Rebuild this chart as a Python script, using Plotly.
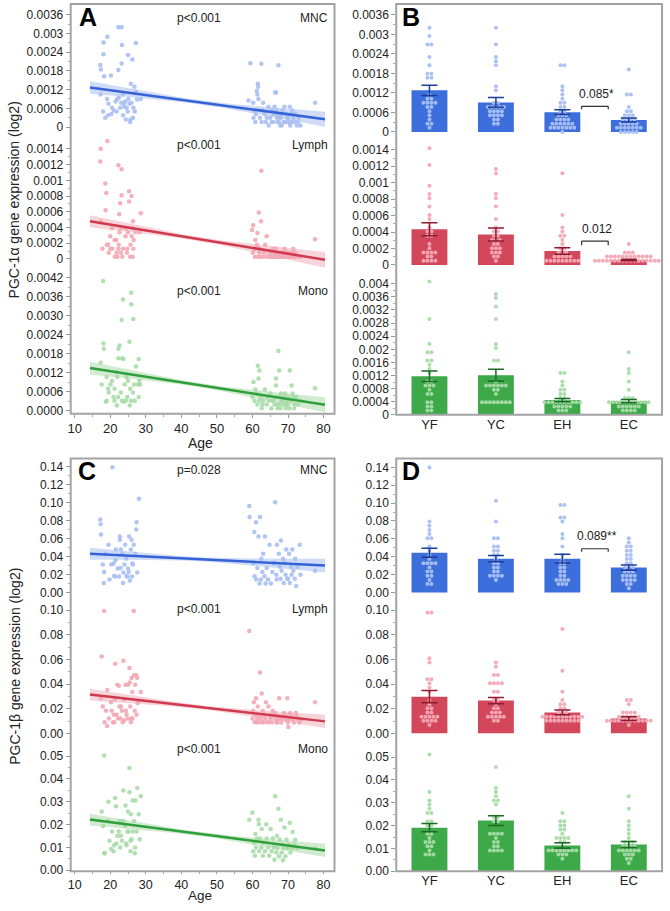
import numpy as np
import plotly.graph_objects as go

GROUPS = ["YF", "YC", "EH", "EC"]
CELLS = ["MNC", "Lymph", "Mono"]

# ================= PGC-1alpha =================
A_MNC_YF = [0.00320, 0.00290, 0.00271, 0.00270, 0.00234, 0.00199, 0.00185, 0.00183, 0.00165, 0.00163,
            0.00113, 0.00104, 0.00104, 0.00090, 0.00090, 0.00090, 0.00090, 0.00078, 0.00078, 0.00065,
            0.00053, 0.00042, 0.00030, 0.00030, 0.00016]
A_MNC_YF_AGE = [22.3, 19.2, 18.1, 27.2, 18.1, 17.2, 17.4, 22.3, 20.2, 18.3,
                27.2, 23.5, 17.3, 25.1, 28.6, 22.0, 19.1, 23.1, 26.0, 24.0,
                21.0, 20.3, 18.6, 26.4, 25.6]
A_MNC_YC = [0.00320, 0.00263, 0.00231, 0.00217, 0.00204, 0.00139, 0.00129, 0.00095, 0.00088, 0.00082,
            0.00082, 0.00075, 0.00075, 0.00075, 0.00062, 0.00062, 0.00062, 0.00062, 0.00050, 0.00050,
            0.00050, 0.00050, 0.00038, 0.00038, 0.00024, 0.00024]
A_MNC_YC_AGE = [23.2, 23.3, 25.0, 26.2, 23.2, 25.8, 26.8, 22.4, 27.5, 21.5,
                24.2, 19.5, 23.8, 25.4, 20.5, 22.8, 24.6, 26.5, 18.0, 21.8,
                24.9, 26.9, 19.4, 23.6, 25.7, 24.4]
A_MNC_EH = [0.00205, 0.00203, 0.00139, 0.00129, 0.00116, 0.00104, 0.00090, 0.00085, 0.00078, 0.00078,
            0.00065, 0.00065, 0.00053, 0.00053, 0.00053, 0.00042, 0.00042, 0.00042, 0.00042, 0.00030,
            0.00030, 0.00030, 0.00030, 0.00030, 0.00030, 0.00016, 0.00016, 0.00016, 0.00016, 0.00016,
            0.00016, 0.00016, 0.00005]
A_MNC_EH_AGE = [59.4, 62.5, 61.5, 61.6, 61.2, 61.4, 61.7, 58.9, 60.2, 63.0,
                64.5, 66.2, 60.5, 62.8, 65.5, 61.0, 63.4, 66.0, 68.2, 60.3,
                62.1, 64.0, 65.0, 67.5, 70.0, 60.8, 62.6, 63.8, 65.8, 67.0,
                69.2, 71.0, 64.6]
A_MNC_EC = [0.00198, 0.00111, 0.00111, 0.00078, 0.00065, 0.00065, 0.00053, 0.00053, 0.00053, 0.00042,
            0.00042, 0.00042, 0.00042, 0.00030, 0.00030, 0.00030, 0.00030, 0.00030, 0.00016, 0.00016,
            0.00016, 0.00016, 0.00016, 0.00016, 0.00016, 0.00005, 0.00005, 0.00005, 0.00005, 0.00005]
A_MNC_EC_AGE = [67.3, 66.6, 66.4, 77.6, 69.0, 70.5, 66.8, 68.5, 71.2, 67.2,
                69.5, 70.8, 72.0, 66.9, 68.0, 69.8, 71.5, 73.0, 67.5, 68.8,
                70.2, 71.8, 72.8, 65.4, 69.3, 68.2, 70.6, 72.5, 73.5, 67.8]

A_LYM_YF = [0.00150, 0.00140, 0.00124, 0.00096, 0.00084, 0.00080, 0.00071, 0.00062, 0.00057, 0.00048,
            0.00039, 0.00039, 0.00034, 0.00034, 0.00024, 0.00018, 0.00013, 0.00013, 0.00013, 0.00013,
            0.00008, 0.00008, 0.00003, 0.00003, 0.00003, 0.00003]
A_LYM_YF_AGE = [19.2, 17.3, 17.2, 18.6, 18.9, 26.0, 22.8, 18.7, 22.5, 17.4,
                20.5, 24.3, 25.0, 28.3, 21.7, 19.0, 17.8, 20.0, 22.3, 24.8,
                19.6, 23.0, 21.3, 22.0, 25.6, 26.3]
A_LYM_YC = [0.00157, 0.00119, 0.00114, 0.00086, 0.00081, 0.00073, 0.00058, 0.00048, 0.00039, 0.00039,
            0.00034, 0.00034, 0.00029, 0.00029, 0.00029, 0.00024, 0.00024, 0.00018, 0.00018, 0.00018,
            0.00013, 0.00013, 0.00013, 0.00008, 0.00008, 0.00003]
A_LYM_YC_AGE = [25.4, 22.3, 23.2, 25.3, 23.2, 25.3, 28.6, 26.4, 23.0, 26.3,
                22.6, 27.1, 20.0, 24.3, 26.0, 21.2, 26.6, 19.4, 22.4, 25.7,
                20.6, 23.6, 26.5, 21.8, 24.7, 23.4]
A_LYM_EH = [0.00112, 0.00059, 0.00048, 0.00043, 0.00037, 0.00033, 0.00029, 0.00024, 0.00018, 0.00018,
            0.00013, 0.00013, 0.00013, 0.00008, 0.00008, 0.00008, 0.00008, 0.00008, 0.00003, 0.00003,
            0.00003, 0.00003, 0.00003, 0.00003, 0.00003, 0.00003, 0.00003]
A_LYM_EH_AGE = [62.5, 61.8, 62.4, 60.2, 59.9, 61.4, 64.0, 60.8, 61.3, 63.6,
                60.5, 62.0, 65.8, 60.1, 61.9, 63.2, 64.8, 66.5, 60.7, 61.6,
                62.9, 63.9, 65.2, 66.0, 67.4, 68.6, 62.2]
A_LYM_EC = [0.00025, 0.00013, 0.00013, 0.00013, 0.00008, 0.00008, 0.00008, 0.00008, 0.00008, 0.00008,
            0.00008, 0.00008, 0.00008, 0.00008, 0.00008, 0.00008, 0.00003, 0.00003, 0.00003, 0.00003,
            0.00003, 0.00003, 0.00003, 0.00003, 0.00003, 0.00003, 0.00003, 0.00003, 0.00003, 0.00003,
            0.00003, 0.00003, 0.00003, 0.00003]
A_LYM_EC_AGE = [77.6, 66.6, 69.0, 71.5, 66.2, 67.0, 67.8, 68.5, 69.3, 70.0,
                70.7, 71.4, 72.1, 65.6, 68.1, 69.7, 66.5, 67.3, 68.0, 68.8,
                69.5, 70.3, 71.0, 71.8, 72.5, 73.5, 65.2, 66.9, 67.6, 69.1,
                70.6, 72.0, 64.5, 70.9]

A_MONO_YF = [0.00410, 0.00287, 0.00213, 0.00196, 0.00196, 0.00166, 0.00166, 0.00152, 0.00140, 0.00123,
             0.00107, 0.00107, 0.00095, 0.00083, 0.00083, 0.00070, 0.00058, 0.00058, 0.00044, 0.00044,
             0.00029, 0.00029, 0.00017, 0.00017]
A_MONO_YF_AGE = [18.0, 23.2, 18.1, 18.2, 22.3, 22.3, 23.4, 17.3, 27.2, 21.8,
                 19.0, 24.6, 20.5, 17.6, 27.8, 21.2, 19.6, 26.4, 22.2, 28.0,
                 18.8, 23.8, 21.9, 25.5]
A_MONO_YC = [0.00373, 0.00352, 0.00337, 0.00290, 0.00218, 0.00206, 0.00164, 0.00164, 0.00107, 0.00095,
             0.00095, 0.00083, 0.00083, 0.00083, 0.00083, 0.00070, 0.00070, 0.00058, 0.00044, 0.00044,
             0.00032, 0.00032, 0.00032, 0.00032, 0.00032, 0.00032]
A_MONO_YC_AGE = [25.9, 23.6, 25.9, 26.5, 25.4, 22.6, 23.7, 28.0, 22.0, 25.0,
                 28.2, 20.1, 24.1, 26.7, 28.4, 19.4, 25.6, 23.0, 20.9, 24.8,
                 19.0, 21.2, 23.3, 24.4, 25.8, 26.9]
A_MONO_EH = [0.00127, 0.00127, 0.00102, 0.00091, 0.00080, 0.00080, 0.00067, 0.00067, 0.00055, 0.00055,
             0.00044, 0.00044, 0.00044, 0.00044, 0.00032, 0.00032, 0.00032, 0.00032, 0.00032, 0.00032,
             0.00020, 0.00020, 0.00020, 0.00020, 0.00020, 0.00008, 0.00008, 0.00008]
A_MONO_EH_AGE = [62.0, 67.5, 61.7, 60.3, 66.6, 71.0, 60.8, 63.5, 61.2, 65.0,
                 60.0, 62.3, 64.2, 66.8, 60.6, 61.9, 63.0, 64.6, 65.7, 68.2,
                 61.4, 62.8, 64.0, 66.2, 69.4, 62.6, 65.3, 67.9]
A_MONO_EC = [0.00189, 0.00142, 0.00127, 0.00102, 0.00071, 0.00055, 0.00055, 0.00055, 0.00044, 0.00044,
             0.00044, 0.00044, 0.00044, 0.00044, 0.00032, 0.00032, 0.00032, 0.00032, 0.00032, 0.00020,
             0.00020, 0.00020, 0.00020, 0.00020, 0.00020, 0.00008, 0.00008, 0.00008, 0.00008]
A_MONO_EC_AGE = [67.3, 61.5, 70.5, 66.6, 77.6, 68.0, 69.2, 71.3, 66.4, 67.8,
                 68.9, 70.1, 71.6, 72.4, 65.9, 68.4, 69.7, 70.8, 73.6, 66.9,
                 67.5, 68.6, 69.9, 71.9, 72.8, 67.1, 69.4, 70.4, 71.7]

# group means and SEM (bars, panel B)
A_MNC_MEAN = [0.00128, 0.00091, 0.00061, 0.00037]
A_MNC_SEM = [0.00016, 0.00015, 0.00007, 0.00006]
A_LYM_MEAN = [0.000434, 0.00037, 0.00017, 0.00006]
A_LYM_SEM = [0.00008, 0.00008, 0.00004, 0.00001]
A_MONO_MEAN = [0.00118, 0.00121, 0.00045, 0.00042]
A_MONO_SEM = [0.00016, 0.00018, 0.00005, 0.00005]

# regression fit (value at FIT_AGE ends) and CI half width [left, middle, right]
FIT_AGE = [14.3, 80.4]
A_MNC_FIT = [0.00127, 0.00025]
A_MNC_CI = [0.00020, 0.000064, 0.00024]
A_LYM_FIT = [0.00048, -0.00001]
A_LYM_CI = [0.000076, 0.000026, 0.00010]
A_MONO_FIT = [0.00135, 0.00019]
A_MONO_CI = [0.00020, 0.000065, 0.000235]
A_PTEXT = ["p<0.001", "p<0.001", "p<0.001"]

# ================= PGC-1beta =================
C_MNC_YF = [0.139, 0.0811, 0.0756, 0.0700, 0.0644, 0.0585, 0.0585, 0.0530, 0.0478, 0.0430,
            0.0356, 0.0311, 0.0311, 0.0311, 0.0311, 0.0270, 0.0226, 0.0226, 0.0181, 0.0181,
            0.0144, 0.0104, 0.0104]
C_MNC_YF_AGE = [20.6, 17.2, 17.3, 27.3, 17.4, 22.7, 26.0, 19.5, 23.0, 18.6,
                21.5, 24.0, 17.9, 26.4, 20.3, 22.9, 25.2, 18.3, 24.6, 21.1,
                19.8, 18.2, 23.6]
C_MNC_YC = [0.104, 0.078, 0.0622, 0.0622, 0.0530, 0.0530, 0.0478, 0.0478, 0.0430, 0.0430,
            0.0374, 0.0322, 0.0322, 0.0267, 0.0267, 0.0222, 0.0222, 0.0178, 0.0178, 0.0178,
            0.0178, 0.0133]
C_MNC_YC_AGE = [28.1, 27.4, 25.3, 22.7, 24.2, 26.6, 21.6, 25.8, 23.4, 27.0,
                24.5, 20.9, 26.2, 22.1, 25.0, 23.7, 27.6, 21.4, 24.8, 26.1,
                22.5, 25.5]
C_MNC_EH = [0.1003, 0.0960, 0.0837, 0.0837, 0.0780, 0.0670, 0.0622, 0.0530, 0.0430, 0.0374,
            0.0322, 0.0322, 0.0270, 0.0270, 0.0226, 0.0226, 0.0180, 0.0180, 0.0144, 0.0144,
            0.0144, 0.0144, 0.0100, 0.0100, 0.0100]
C_MNC_EH_AGE = [66.4, 59.1, 59.2, 62.1, 61.0, 60.5, 61.7, 64.8, 63.0, 62.5,
                60.2, 66.0, 61.4, 64.0, 62.8, 65.6, 60.6, 63.4, 61.1, 62.4,
                64.4, 66.8, 62.0, 63.7, 65.2]
C_MNC_EC = [0.0622, 0.0578, 0.0530, 0.0530, 0.0478, 0.0478, 0.0430, 0.0430, 0.0374, 0.0374,
            0.0330, 0.0330, 0.0285, 0.0285, 0.0285, 0.0240, 0.0240, 0.0240, 0.0196, 0.0196,
            0.0196, 0.0196, 0.0152, 0.0152, 0.0152, 0.0152, 0.0104, 0.0104, 0.0070]
C_MNC_EC_AGE = [63.5, 68.0, 73.3, 66.9, 69.5, 71.2, 67.4, 70.3, 68.6, 72.0,
                66.2, 69.0, 67.7, 70.8, 72.6, 68.2, 71.5, 77.6, 66.7, 69.3,
                71.0, 73.5, 67.9, 70.0, 71.9, 69.8, 68.8, 70.5, 72.3]

C_LYM_YF = [0.0995, 0.0995, 0.0624, 0.0565, 0.0449, 0.0449, 0.0414, 0.0387, 0.0352, 0.0285,
            0.0253, 0.0218, 0.0218, 0.0183, 0.0183, 0.0150, 0.0121, 0.0121, 0.0121, 0.0121,
            0.0090, 0.0090, 0.0090, 0.0090, 0.0059]
C_LYM_YF_AGE = [18.3, 26.6, 17.6, 21.4, 26.0, 27.6, 25.5, 22.4, 19.2, 17.4,
                20.2, 23.0, 17.9, 18.8, 24.4, 21.0, 19.6, 22.2, 24.9, 26.2,
                18.4, 20.8, 23.5, 25.8, 19.1]
C_LYM_YC = [0.0589, 0.0530, 0.0472, 0.0472, 0.0395, 0.0395, 0.0395, 0.0395, 0.0336, 0.0336,
            0.0274, 0.0274, 0.0247, 0.0218, 0.0218, 0.0183, 0.0183, 0.0183, 0.0150, 0.0150,
            0.0150, 0.0121, 0.0121, 0.0104, 0.0090]
C_LYM_YC_AGE = [23.7, 25.4, 26.7, 27.3, 22.0, 24.3, 25.0, 27.0, 26.2, 28.6,
                21.3, 24.0, 27.7, 22.6, 25.6, 20.4, 23.3, 26.9, 21.8, 24.6,
                27.4, 22.9, 25.9, 23.9, 21.1]
C_LYM_EH = [0.0831, 0.0494, 0.0323, 0.0285, 0.0253, 0.0253, 0.0218, 0.0218, 0.0183, 0.0183,
            0.0183, 0.0150, 0.0150, 0.0150, 0.0150, 0.0150, 0.0121, 0.0121, 0.0121, 0.0121,
            0.0121, 0.0121, 0.0090, 0.0090, 0.0090, 0.0090, 0.0090, 0.0090, 0.0090, 0.0090,
            0.0090]
C_LYM_EH_AGE = [59.1, 62.1, 62.6, 61.0, 60.4, 63.8, 61.5, 64.5, 60.2, 62.9,
                65.7, 60.8, 61.9, 63.3, 64.9, 66.4, 60.0, 61.3, 62.4, 63.6,
                65.1, 67.0, 60.6, 61.7, 62.7, 64.1, 65.5, 66.8, 63.0, 61.2,
                64.7]
C_LYM_EC = [0.0285, 0.0285, 0.0253, 0.0165, 0.0165, 0.0165, 0.0165, 0.0140, 0.0140, 0.0140,
            0.0140, 0.0140, 0.0140, 0.0113, 0.0113, 0.0113, 0.0113, 0.0113, 0.0113, 0.0113,
            0.0088, 0.0088, 0.0088, 0.0088, 0.0088, 0.0052]
C_LYM_EC_AGE = [67.5, 69.8, 77.6, 66.3, 68.9, 70.6, 72.2, 65.8, 67.2, 68.4,
                69.6, 71.0, 72.5, 66.6, 67.9, 69.2, 70.3, 71.4, 72.9, 73.8,
                66.9, 68.1, 69.9, 71.7, 73.2, 70.1]

C_MONO_YF = [0.0503, 0.0349, 0.0317, 0.0300, 0.0281, 0.0257, 0.0257, 0.0216, 0.0216, 0.0194,
             0.0194, 0.0170, 0.0170, 0.0150, 0.0129, 0.0129, 0.0129, 0.0110, 0.0110, 0.0093,
             0.0074, 0.0074, 0.0074]
C_MONO_YF_AGE = [18.3, 23.7, 21.4, 19.5, 21.6, 17.6, 25.0, 19.3, 22.7, 18.0,
                 24.1, 20.5, 26.3, 22.0, 19.8, 23.3, 25.7, 21.1, 24.6, 20.2,
                 18.3, 18.5, 26.9]
C_MONO_YC = [0.0581, 0.0448, 0.0360, 0.0342, 0.0324, 0.0306, 0.0306, 0.0284, 0.0245, 0.0245,
             0.0216, 0.0216, 0.0170, 0.0170, 0.0170, 0.0170, 0.0151, 0.0136, 0.0136, 0.0117,
             0.0117, 0.0100, 0.0100, 0.0083, 0.0083]
C_MONO_YC_AGE = [26.6, 25.4, 27.6, 25.4, 28.6, 26.3, 27.1, 24.3, 25.8, 28.0,
                 23.6, 26.7, 22.4, 24.9, 27.4, 25.1, 23.0, 26.0, 28.3, 21.7,
                 24.5, 22.8, 27.0, 20.9, 25.7]
C_MONO_EH = [0.0252, 0.0221, 0.0221, 0.0202, 0.0202, 0.0181, 0.0181, 0.0159, 0.0139, 0.0139,
             0.0139, 0.0139, 0.0122, 0.0122, 0.0100, 0.0100, 0.0100, 0.0100, 0.0083, 0.0083,
             0.0083, 0.0083, 0.0064, 0.0064, 0.0064, 0.0046]
C_MONO_EH_AGE = [60.0, 59.1, 61.7, 61.8, 63.9, 62.6, 65.1, 60.8, 61.3, 62.2,
                 64.0, 65.7, 60.4, 63.0, 61.0, 62.5, 64.4, 66.0, 60.2, 61.9,
                 63.5, 65.4, 60.7, 62.9, 64.7, 66.2]
C_MONO_EC = [0.0324, 0.0269, 0.0221, 0.0208, 0.0187, 0.0168, 0.0150, 0.0134, 0.0134, 0.0134,
             0.0112, 0.0112, 0.0112, 0.0112, 0.0096, 0.0096, 0.0096, 0.0096, 0.0096, 0.0096,
             0.0078, 0.0078, 0.0078, 0.0061, 0.0061, 0.0044]
C_MONO_EC_AGE = [66.4, 67.3, 68.0, 70.5, 69.0, 71.3, 66.9, 67.7, 69.6, 72.0,
                 66.2, 68.4, 70.2, 71.8, 67.0, 68.8, 69.9, 71.1, 72.5, 77.6,
                 66.7, 68.2, 70.7, 67.5, 69.3, 68.6]

C_MNC_MEAN = [0.0444, 0.0378, 0.0378, 0.0278]
C_MNC_SEM = [0.0050, 0.0035, 0.0050, 0.0030]
C_LYM_MEAN = [0.0298, 0.0266, 0.0170, 0.0120]
C_LYM_SEM = [0.0050, 0.0025, 0.0020, 0.0015]
C_MONO_MEAN = [0.0191, 0.0222, 0.0113, 0.0117]
C_MONO_SEM = [0.0018, 0.0021, 0.0012, 0.0013]

C_MNC_FIT = [0.0430, 0.0298]
C_MNC_CI = [0.0066, 0.0022, 0.0077]
C_LYM_FIT = [0.0315, 0.0097]
C_LYM_CI = [0.0048, 0.0016, 0.0054]
C_MONO_FIT = [0.0222, 0.0087]
C_MONO_CI = [0.0026, 0.00087, 0.0029]
C_PTEXT = ["p=0.028", "p<0.001", "p<0.001"]

# ---- tick values / labels ----
TV_A_MNC = [0, 0.0006, 0.0012, 0.0018, 0.0024, 0.003, 0.0036]
TT_A_MNC = ["0", "0.0006", "0.0012", "0.0018", "0.0024", "0.003", "0.0036"]
TV_A_LYM = [0, 0.0002, 0.0004, 0.0006, 0.0008, 0.001, 0.0012, 0.0014]
TT_A_LYM = ["0", "0.0002", "0.0004", "0.0006", "0.0008", "0.001", "0.0012", "0.0014"]
TV_A_MONO = [0, 0.0006, 0.0012, 0.0018, 0.0024, 0.0030, 0.0036, 0.0042]
TT_A_MONO = ["0.0000", "0.0006", "0.0012", "0.0018", "0.0024", "0.0030", "0.0036", "0.0042"]
TV_B_MONO = [0, 0.0004, 0.0008, 0.0012, 0.0016, 0.002, 0.0024, 0.0028, 0.0032, 0.0036, 0.004]
TT_B_MONO = ["0", "0.0004", "0.0008", "0.0012", "0.0016", "0.002", "0.0024", "0.0028", "0.0032", "0.0036", "0.004"]
TV_C_MNC = [0, 0.02, 0.04, 0.06, 0.08, 0.10, 0.12, 0.14]
TT_C_MNC = ["0.00", "0.02", "0.04", "0.06", "0.08", "0.10", "0.12", "0.14"]
TV_C_LYM = [0, 0.02, 0.04, 0.06, 0.08, 0.10]
TT_C_LYM = ["0.00", "0.02", "0.04", "0.06", "0.08", "0.10"]
TV_C_MONO = [0, 0.01, 0.02, 0.03, 0.04, 0.05]
TT_C_MONO = ["0.00", "0.01", "0.02", "0.03", "0.04", "0.05"]
AGE_TICKS = [10, 20, 30, 40, 50, 60, 70, 80]

# significance brackets (between EH and EC): panel, cell, label, y of bar, y of tick end, y of label
BRACKETS = [("B", 0, "0.085*", 0.00079, 0.00070, 0.00116),
            ("B", 1, "0.012", 0.000290, 0.000241, 0.000434),
            ("D", 0, "0.089**", 0.0489, 0.0456, 0.0633)]

# ================= build =================
W, H = 670, 911
FONT = "Liberation Sans, Arial, sans-serif"
TXT = "#222222"
STY = {
    "MNC": dict(line="#3463d8", band="rgba(100,138,228,0.30)", dot="#a9bff2", bar="#3d6fdc", err="#1b3d9c"),
    "Lymph": dict(line="#d03a4f", band="rgba(224,112,130,0.30)", dot="#f3a8b5", bar="#d3475b", err="#8e1a2c"),
    "Mono": dict(line="#2f9f3b", band="rgba(112,192,112,0.32)", dot="#a8dba8", bar="#3da948", err="#1b6a25"),
}


def fx(px):
    return px / W


def fy(px):
    return 1 - px / H


# panel geometry in pixels
PANELS = {
    "A": dict(x=(68, 333), sub=[(4, 139), (139, 272), (272, 417)],
              zero=[128, 261, 414], ref=[(15, 0.0036), (150, 0.0014), (280, 0.0042)],
              xtick=dict(size=13, len=3)),
    "B": dict(x=(395, 662), sub=[(4, 142), (142, 276), (276, 418)],
              zero=[133, 267, 418], ref=[(15, 0.0036), (151, 0.0014), (286, 0.004)]),
    "C": dict(x=(68, 333), sub=[(462, 605), (605, 748), (748, 878)],
              zero=[597, 739, 877], ref=[(470, 0.14), (615, 0.10), (762, 0.05)],
              xtick=dict(size=12.5, len=2)),
    "D": dict(x=(395, 662), sub=[(462, 606), (606, 748), (748, 878)],
              zero=[597, 739, 878], ref=[(471, 0.14), (615, 0.10), (763, 0.05)]),
}
ORDER = ["A", "B", "C", "D"]

SCAT = {
    "A": [[(A_MNC_YF, A_MNC_YF_AGE), (A_MNC_YC, A_MNC_YC_AGE), (A_MNC_EH, A_MNC_EH_AGE), (A_MNC_EC, A_MNC_EC_AGE)],
          [(A_LYM_YF, A_LYM_YF_AGE), (A_LYM_YC, A_LYM_YC_AGE), (A_LYM_EH, A_LYM_EH_AGE), (A_LYM_EC, A_LYM_EC_AGE)],
          [(A_MONO_YF, A_MONO_YF_AGE), (A_MONO_YC, A_MONO_YC_AGE), (A_MONO_EH, A_MONO_EH_AGE), (A_MONO_EC, A_MONO_EC_AGE)]],
    "C": [[(C_MNC_YF, C_MNC_YF_AGE), (C_MNC_YC, C_MNC_YC_AGE), (C_MNC_EH, C_MNC_EH_AGE), (C_MNC_EC, C_MNC_EC_AGE)],
          [(C_LYM_YF, C_LYM_YF_AGE), (C_LYM_YC, C_LYM_YC_AGE), (C_LYM_EH, C_LYM_EH_AGE), (C_LYM_EC, C_LYM_EC_AGE)],
          [(C_MONO_YF, C_MONO_YF_AGE), (C_MONO_YC, C_MONO_YC_AGE), (C_MONO_EH, C_MONO_EH_AGE), (C_MONO_EC, C_MONO_EC_AGE)]],
}
SCAT["B"] = SCAT["A"]
SCAT["D"] = SCAT["C"]
BARS = {
    "B": [(A_MNC_MEAN, A_MNC_SEM), (A_LYM_MEAN, A_LYM_SEM), (A_MONO_MEAN, A_MONO_SEM)],
    "D": [(C_MNC_MEAN, C_MNC_SEM), (C_LYM_MEAN, C_LYM_SEM), (C_MONO_MEAN, C_MONO_SEM)],
}
FITS = {
    "A": [(A_MNC_FIT, A_MNC_CI), (A_LYM_FIT, A_LYM_CI), (A_MONO_FIT, A_MONO_CI)],
    "C": [(C_MNC_FIT, C_MNC_CI), (C_LYM_FIT, C_LYM_CI), (C_MONO_FIT, C_MONO_CI)],
}
TICKS = {
    "A": [(TV_A_MNC, TT_A_MNC), (TV_A_LYM, TT_A_LYM), (TV_A_MONO, TT_A_MONO)],
    "B": [(TV_A_MNC, TT_A_MNC), (TV_A_LYM, TT_A_LYM), (TV_B_MONO, TT_B_MONO)],
    "C": [(TV_C_MNC, TT_C_MNC), (TV_C_LYM, TT_C_LYM), (TV_C_MONO, TT_C_MONO)],
    "D": [(TV_C_MNC, TT_C_MNC), (TV_C_LYM, TT_C_LYM), (TV_C_MONO, TT_C_MONO)],
}

fig = go.Figure()
layout = dict(width=W, height=H, margin=dict(l=0, r=0, t=0, b=0, pad=0),
              paper_bgcolor="white", plot_bgcolor="rgba(0,0,0,0)", showlegend=False,
              font=dict(family=FONT, color=TXT, size=12), barmode="overlay")
shapes = []
annotations = []


def aname(kind, n):
    return kind + "axis" + ("" if n == 1 else str(n))


def aref(kind, n):
    return kind + ("" if n == 1 else str(n))


CAT_PX = (662 - 395) / 4.0

for p_i, P in enumerate(ORDER):
    g = PANELS[P]
    xn = p_i + 1
    is_scatter = P in ("A", "C")
    bottom_y = p_i * 3 + 3
    xdom = [fx(g["x"][0]), fx(g["x"][1])]
    if is_scatter:
        pxu = (322 - 72) / 70.0
        xr = [10 - (72 - g["x"][0]) / pxu, 80 + (g["x"][1] - 322) / pxu]
        layout[aname("x", xn)] = dict(
            domain=xdom, range=xr, anchor=aref("y", bottom_y), tickmode="array",
            tickvals=AGE_TICKS, ticktext=[str(a) for a in AGE_TICKS], ticks="outside",
            ticklen=g["xtick"]["len"], tickcolor="#999", showgrid=False, zeroline=False, showline=False,
            tickfont=dict(size=g["xtick"]["size"], color=TXT, family=FONT),
            minor=dict(tickvals=[a + 5 for a in AGE_TICKS[:-1]], ticks="outside", ticklen=2,
                       tickcolor="#aaa", showgrid=False), fixedrange=True)
    else:
        layout[aname("x", xn)] = dict(
            domain=xdom, range=[-0.5, len(GROUPS) - 0.5], anchor=aref("y", bottom_y), tickmode="array",
            tickvals=list(range(len(GROUPS))), ticktext=GROUPS, ticks="", showgrid=False,
            zeroline=False, showline=False, tickfont=dict(size=13, color=TXT, family=FONT), fixedrange=True)

    for c_i, cell in enumerate(CELLS):
        yn = p_i * 3 + c_i + 1
        top, bot = g["sub"][c_i]
        z = g["zero"][c_i]
        rpx, rval = g["ref"][c_i]
        sc = (z - rpx) / rval  # px per unit
        yr = [-(bot - z) / sc, (z - top) / sc]
        tv, tt = TICKS[P][c_i]
        minor = [(tv[k] + tv[k + 1]) / 2 for k in range(len(tv) - 1)]
        layout[aname("y", yn)] = dict(
            domain=[fy(bot), fy(top)], range=yr, anchor=aref("x", xn), tickmode="array",
            tickvals=tv, ticktext=tt, ticks="outside", ticklen=4, tickcolor="#999",
            showgrid=False, zeroline=False, showline=False,
            tickfont=dict(size=12, color=TXT, family=FONT),
            minor=dict(tickvals=minor, ticks="outside", ticklen=2, tickcolor="#aaa", showgrid=False),
            fixedrange=True)
        st = STY[cell]
        xr_ = aref("x", xn)
        yr_ = aref("y", yn)
        groups = SCAT[P][c_i]
        if is_scatter:
            fit, ci = FITS[P][c_i]
            xs = np.linspace(FIT_AGE[0], FIT_AGE[1], 80)
            yc = fit[0] + (fit[1] - fit[0]) * (xs - FIT_AGE[0]) / (FIT_AGE[1] - FIT_AGE[0])
            xm = 45.0
            endv = np.where(xs < xm, ci[0], ci[2])
            xe = np.where(xs < xm, FIT_AGE[0], FIT_AGE[1])
            hw = np.sqrt(ci[1] ** 2 + (endv ** 2 - ci[1] ** 2) * ((xs - xm) / (xe - xm)) ** 2)
            fig.add_trace(go.Scatter(x=np.concatenate([xs, xs[::-1]]), y=np.concatenate([yc + hw, (yc - hw)[::-1]]),
                                     fill="toself", fillcolor=st["band"], line=dict(width=0), mode="lines",
                                     hoverinfo="skip", xaxis=xr_, yaxis=yr_))
            allv, alla = [], []
            for vals, ages in groups:
                allv += vals
                alla += ages
            fig.add_trace(go.Scatter(x=alla, y=allv, mode="markers", cliponaxis=False,
                                     marker=dict(size=4.5, color=st["dot"], opacity=0.9),
                                     xaxis=xr_, yaxis=yr_))
            fig.add_trace(go.Scatter(x=FIT_AGE, y=fit, mode="lines", line=dict(color=st["line"], width=2.5),
                                     xaxis=xr_, yaxis=yr_))
            ptext = A_PTEXT if P == "A" else C_PTEXT
            ypx = {"A": [18, 146, 293], "C": [474, 614, 755]}[P][c_i]
            annotations.append(dict(x=fx(197), y=fy(ypx), xref="paper", yref="paper", text=ptext[c_i],
                                    showarrow=False, xanchor="center", yanchor="middle",
                                    font=dict(size=12, color=TXT, family=FONT)))
            annotations.append(dict(x=fx(328), y=fy(ypx), xref="paper", yref="paper", text=cell,
                                    showarrow=False, xanchor="right", yanchor="middle",
                                    font=dict(size=12, color=TXT, family=FONT)))
        else:
            means, sems = BARS[P][c_i]
            idx = list(range(len(GROUPS)))
            fig.add_trace(go.Bar(x=idx, y=means, width=0.54, marker=dict(color=st["bar"], line=dict(width=0)),
                                 xaxis=xr_, yaxis=yr_))
            row_px, col_px = 4.2, 4.0
            dx, dy = [], []
            for gi, (vals, ages) in enumerate(groups):
                bins = {}
                for v in vals:
                    b = int(round(v * sc / row_px))
                    bins.setdefault(b, []).append(v)
                for b, items in bins.items():
                    k = len(items)
                    for i in range(k):
                        dx.append(gi + (i - (k - 1) / 2.0) * col_px / CAT_PX)
                        dy.append(b * row_px / sc)
            fig.add_trace(go.Scatter(x=dx, y=dy, mode="markers", cliponaxis=False,
                                     marker=dict(size=4, color=st["dot"], opacity=0.95),
                                     xaxis=xr_, yaxis=yr_))
            fig.add_trace(go.Scatter(x=idx, y=means, mode="markers", marker=dict(size=1, opacity=0),
                                     error_y=dict(type="data", array=sems, visible=True, color=st["err"],
                                                  thickness=1.5, width=8),
                                     xaxis=xr_, yaxis=yr_))

    # frame
    shapes.append(dict(type="rect", xref="paper", yref="paper", x0=fx(g["x"][0]), x1=fx(g["x"][1]),
                       y0=fy(g["sub"][2][1]), y1=fy(g["sub"][0][0]),
                       line=dict(color="#a3a3a3", width=2), fillcolor="rgba(0,0,0,0)", layer="above"))

# panel letters
for P, (lx, ly) in zip(ORDER, [(74, 17), (399, 17.5), (73, 474.5), (399, 474.5)]):
    annotations.append(dict(x=fx(lx), y=fy(ly), xref="paper", yref="paper", text="<b>%s</b>" % P,
                            showarrow=False, xanchor="left", yanchor="middle",
                            font=dict(size=25, color="black", family=FONT)))

# axis titles
for txt, ypx in [("PGC-1α gene expression (log2)", 201), ("PGC-1β gene expression (log2)", 671)]:
    annotations.append(dict(x=fx(12), y=fy(ypx), xref="paper", yref="paper", text=txt, textangle=-90,
                            showarrow=False, xanchor="center", yanchor="middle",
                            font=dict(size=14, color=TXT, family=FONT)))
annotations.append(dict(x=fx(198), y=fy(446), xref="paper", yref="paper", text="Age",
                        showarrow=False, xanchor="center", yanchor="middle", borderpad=0,
                        font=dict(size=14, color=TXT, family=FONT)))
annotations.append(dict(x=fx(198), y=0, xref="paper", yref="paper", text="Age",
                        showarrow=False, xanchor="center", yanchor="bottom", borderpad=0,
                        font=dict(size=13.5, color=TXT, family=FONT)))

# brackets
BX = [2.29, 2.69]
for P, c_i, lab, yb, yt, ylab in BRACKETS:
    p_i = ORDER.index(P)
    xr_ = aref("x", p_i + 1)
    yr_ = aref("y", p_i * 3 + c_i + 1)
    for (x0, y0, x1, y1) in [(BX[0], yb, BX[1], yb), (BX[0], yt, BX[0], yb), (BX[1], yt, BX[1], yb)]:
        shapes.append(dict(type="line", xref=xr_, yref=yr_, x0=x0, y0=y0, x1=x1, y1=y1,
                           line=dict(color="#333", width=1.2)))
    annotations.append(dict(x=(BX[0] + BX[1]) / 2 + 0.03, y=ylab, xref=xr_, yref=yr_, text=lab,
                            showarrow=False, xanchor="center", yanchor="middle",
                            font=dict(size=12, color=TXT, family=FONT)))

layout["shapes"] = shapes
layout["annotations"] = annotations
fig.update_layout(**layout)
fig.write_html("out.html", config={"displayModeBar": False},
               post_script="document.body.style.margin='0px';document.body.style.overflow='hidden';")
